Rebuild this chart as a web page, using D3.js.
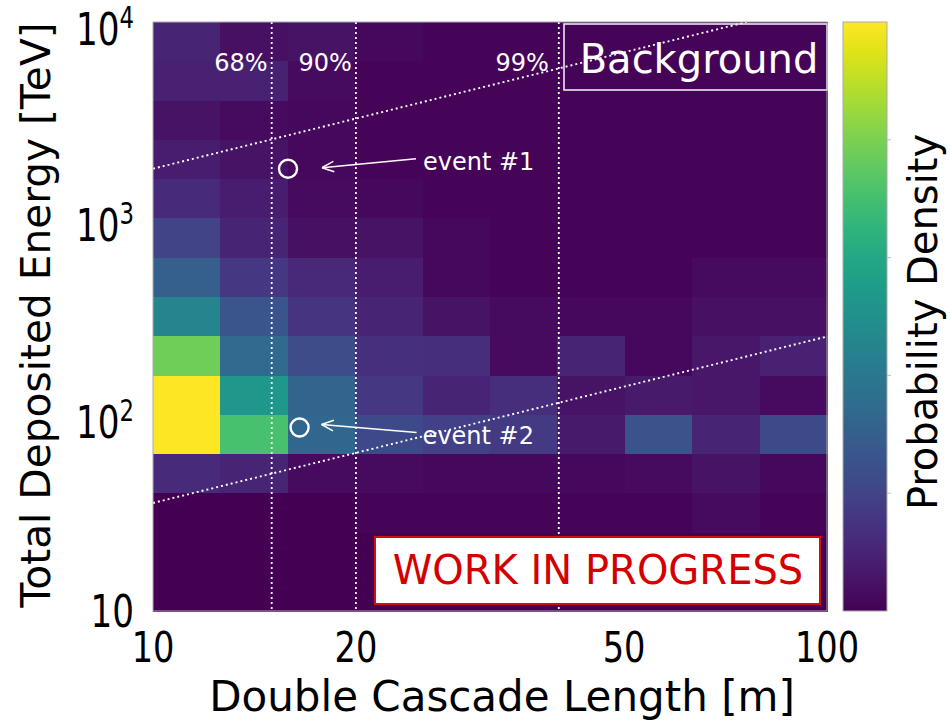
<!DOCTYPE html>
<html><head><meta charset="utf-8">
<script src="https://cdn.jsdelivr.net/npm/d3@7"></script>
<style>
body{margin:0;background:#fff;}
text{font-family:"DejaVu Sans",sans-serif;}
</style>
</head><body>
<svg id="chart" width="950" height="721"></svg>
<script>
// ---- data ----
const lengthEdges = [10, 12.59, 15.85, 19.95, 25.12, 31.62, 39.81, 50.12, 63.10, 79.43, 100];
// energy bin edges, top (high) to bottom (low)
const energyEdges = [10000, 6310, 3981, 2512, 1585, 1000, 631, 398, 251, 158, 100, 63.1, 39.8, 25.1, 15.8, 10];
// probability density per cell, rows top->bottom, cols left->right
const density = [
  [0.10, 0.04, 0.05, 0.02, 0.01, 0.01, 0.01, 0.01, 0.01, 0.01],
  [0.09, 0.09, 0.03, 0.01, 0.01, 0.01, 0.01, 0.01, 0.01, 0.01],
  [0.05, 0.03, 0.02, 0.01, 0.01, 0.01, 0.01, 0.01, 0.01, 0.01],
  [0.08, 0.05, 0.02, 0.01, 0.01, 0.01, 0.01, 0.01, 0.01, 0.01],
  [0.12, 0.08, 0.03, 0.02, 0.01, 0.01, 0.01, 0.01, 0.01, 0.01],
  [0.20, 0.10, 0.04, 0.05, 0.02, 0.01, 0.01, 0.01, 0.01, 0.01],
  [0.30, 0.16, 0.11, 0.08, 0.02, 0.01, 0.01, 0.01, 0.03, 0.03],
  [0.45, 0.26, 0.15, 0.10, 0.05, 0.03, 0.02, 0.02, 0.04, 0.04],
  [0.78, 0.34, 0.23, 0.14, 0.13, 0.03, 0.10, 0.02, 0.06, 0.09],
  [1.00, 0.53, 0.32, 0.16, 0.10, 0.13, 0.05, 0.07, 0.06, 0.03],
  [1.00, 0.71, 0.33, 0.22, 0.19, 0.17, 0.07, 0.25, 0.10, 0.22],
  [0.12, 0.10, 0.03, 0.03, 0.02, 0.02, 0.02, 0.03, 0.05, 0.02],
  [0.00, 0.00, 0.00, 0.01, 0.01, 0.01, 0.01, 0.01, 0.03, 0.01],
  [0.00, 0.00, 0.00, 0.00, 0.00, 0.00, 0.00, 0.00, 0.00, 0.00],
  [0.00, 0.00, 0.00, 0.00, 0.00, 0.00, 0.00, 0.00, 0.00, 0.00]
];
const xTicks = [10, 20, 50, 100];
const yTicks = [{v: 10000, base: "10", exp: "4"}, {v: 1000, base: "10", exp: "3"}, {v: 100, base: "10", exp: "2"}, {v: 10, base: "10", exp: ""}];
const containment = [{label: "68%", length: 15}, {label: "90%", length: 20}, {label: "99%", length: 40}];
const upperBand = [[10, 1790], [76, 10000]];
const lowerBand = [[10, 35.5], [100, 250]];
const events = [
  {name: "event #1", length: 15.86, energy: 1790},
  {name: "event #2", length: 16.5, energy: 86}
];
const cbarTicks = [0.2, 0.4, 0.6, 0.8];

// ---- layout ----
const L = 153, R = 827, T = 22, B = 611;
const svg = d3.select("#chart");
const x = d3.scaleLog().domain([10, 100]).range([L, R]);
const y = d3.scaleLog().domain([10, 10000]).range([B, T]);
const color = d3.scaleSequential(d3.interpolateViridis).domain([0, 1]);

// cells
const cells = [];
density.forEach((row, i) => row.forEach((v, j) => cells.push({i, j, v})));
svg.append("g").selectAll("rect").data(cells).join("rect")
  .attr("x", d => x(lengthEdges[d.j]))
  .attr("y", d => y(energyEdges[d.i]))
  .attr("width", d => x(lengthEdges[d.j + 1]) - x(lengthEdges[d.j]) + 0.5)
  .attr("height", d => y(energyEdges[d.i + 1]) - y(energyEdges[d.i]) + 0.5)
  .attr("fill", d => color(d.v))
  .attr("shape-rendering", "crispEdges");

// containment vertical lines
const dots = "2,3";
svg.append("g").selectAll("line").data(containment).join("line")
  .attr("x1", d => x(d.length)).attr("x2", d => x(d.length))
  .attr("y1", T).attr("y2", B)
  .attr("stroke", "#fff").attr("stroke-width", 1.8).attr("stroke-dasharray", dots);
svg.append("g").selectAll("text").data(containment).join("text")
  .attr("x", (d, k) => x(d.length) - (k === 2 ? 10 : 4))
  .attr("y", 71)
  .attr("text-anchor", "end")
  .attr("fill", "#fff").attr("font-size", 24)
  .text(d => d.label);

// diagonal band lines
const line = d3.line().x(d => x(d[0])).y(d => y(d[1]));
[upperBand, lowerBand].forEach(b => {
  svg.append("path").attr("d", line(b)).attr("fill", "none")
    .attr("stroke", "#fff").attr("stroke-width", 1.9).attr("stroke-dasharray", dots);
});

// Background box
svg.append("rect").attr("x", 564).attr("y", 24).attr("width", R - 564).attr("height", 66)
  .attr("fill", "none").attr("stroke", "#f0e6f4").attr("stroke-width", 1.6);
svg.append("text").attr("x", 699).attr("y", 73).attr("text-anchor", "middle")
  .attr("fill", "#fff").attr("font-size", 40).text("Background");

// events
const arrowGeom = [
  {head: [34, -1], tail: [128, -10], text: [135, 1]},
  {head: [22, -3], tail: [117, 5], text: [123, 16]}
];
events.forEach((e, k) => {
  const cx = x(e.length), cy = y(e.energy);
  const g = arrowGeom[k];
  svg.append("circle").attr("cx", cx).attr("cy", cy).attr("r", 9)
    .attr("fill", "none").attr("stroke", "#fff").attr("stroke-width", 2.4);
  const hx = cx + g.head[0], hy = cy + g.head[1], tx = cx + g.tail[0], ty = cy + g.tail[1];
  svg.append("line").attr("x1", tx).attr("y1", ty).attr("x2", hx).attr("y2", hy)
    .attr("stroke", "#fff").attr("stroke-width", 1.5);
  const ang = Math.atan2(ty - hy, tx - hx);
  const len = 13, spread = 0.42;
  [ang + spread, ang - spread].forEach(a => {
    svg.append("line").attr("x1", hx).attr("y1", hy)
      .attr("x2", hx + len * Math.cos(a)).attr("y2", hy + len * Math.sin(a))
      .attr("stroke", "#fff").attr("stroke-width", 1.5);
  });
  svg.append("text").attr("x", cx + g.text[0]).attr("y", cy + g.text[1])
    .attr("fill", "#fff").attr("font-size", 24).text(e.name);
});

// WORK IN PROGRESS
svg.append("rect").attr("x", 375).attr("y", 537).attr("width", 445).attr("height", 67)
  .attr("fill", "#fff").attr("stroke", "#d01010").attr("stroke-width", 2);
svg.append("text").attr("x", 598).attr("y", 584).attr("text-anchor", "middle")
  .attr("fill", "#d40000").attr("font-size", 40).text("WORK IN PROGRESS");

// plot frame
svg.append("rect").attr("x", L).attr("y", T).attr("width", R - L).attr("height", B - T)
  .attr("fill", "none").attr("stroke", "#aaa").attr("stroke-width", 1);

// x ticks (condensed digits)
svg.append("g").selectAll("text").data(xTicks).join("text")
  .attr("transform", d => `translate(${x(d)},662) scale(0.8,1)`)
  .attr("text-anchor", "middle")
  .attr("font-size", 42).attr("fill", "#000").text(d => d);

// y ticks
const yt = svg.append("g").selectAll("text").data(yTicks).join("text")
  .attr("transform", d => `translate(134,${y(d.v) + (d.exp ? 23 : 16)}) scale(0.76,1)`)
  .attr("text-anchor", "end").attr("font-size", 45).attr("fill", "#000");
yt.append("tspan").text(d => d.base);
yt.append("tspan").attr("dy", d => d.exp ? -17 : 0).attr("font-size", 30).text(d => d.exp);

// axis labels
svg.append("text").attr("x", 502).attr("y", 711).attr("text-anchor", "middle")
  .attr("font-size", 42).attr("fill", "#000").text("Double Cascade Length [m]");
svg.append("text").attr("transform", "translate(50,315) rotate(-90)").attr("text-anchor", "middle")
  .attr("font-size", 40.7).attr("fill", "#000").text("Total Deposited Energy [TeV]");

// colorbar
const cb = d3.scaleLinear().domain([0, 1]).range([B, T]);
const defs = svg.append("defs");
const grad = defs.append("linearGradient").attr("id", "vir").attr("x1", 0).attr("y1", 1).attr("x2", 0).attr("y2", 0);
d3.range(0, 1.0001, 0.05).forEach(t => grad.append("stop").attr("offset", t).attr("stop-color", color(t)));
svg.append("rect").attr("x", 843).attr("y", cb(1)).attr("width", 44).attr("height", cb(0) - cb(1))
  .attr("fill", "url(#vir)").attr("stroke", "#aaa").attr("stroke-width", 1);
svg.append("g").selectAll("line").data(cbarTicks).join("line")
  .attr("x1", 887).attr("x2", 891).attr("y1", d => cb(d)).attr("y2", d => cb(d))
  .attr("stroke", "#bbb").attr("stroke-width", 1);
svg.append("text").attr("transform", "translate(937,322) rotate(-90)").attr("text-anchor", "middle")
  .attr("font-size", 40).attr("fill", "#000").text("Probability Density");
</script>
</body></html>
